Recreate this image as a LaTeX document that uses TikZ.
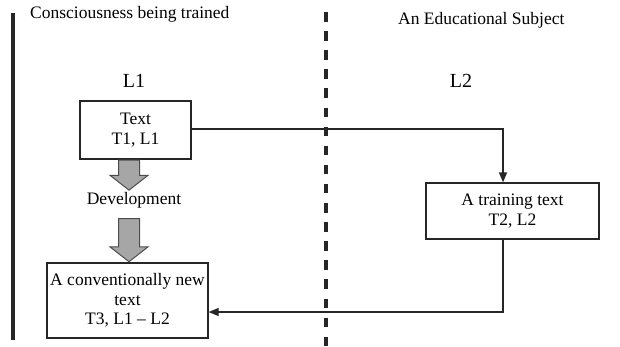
\documentclass[tikz,border=0pt]{standalone}
\usepackage{fontspec}
\setmainfont{Liberation Serif}
\usepackage{tikz}
\usetikzlibrary{arrows.meta,calc,shapes.arrows}

\begin{document}
\begin{tikzpicture}[x=1pt,y=-1pt,
  box/.style={draw=black!85,line width=1.3pt,align=center,inner sep=1pt,font=\fontsize{17.5}{19.5}\selectfont},
  txt/.style={font=\fontsize{17.5}{19.5}\selectfont,inner sep=0pt},
  lang/.style={font=\fontsize{20}{24}\selectfont,inner sep=0pt},
  link/.style={draw=black!85,line width=1.3pt,-{Triangle[length=10pt,width=8pt]}},
  blockarrow/.style={single arrow,shape border rotate=270,draw=black!70,fill=black!35,line width=1pt,
    inner sep=10pt,single arrow head extend=8.5pt,single arrow tip angle=104}]
\useasboundingbox (0,0) rectangle (620,346);

\draw[line width=3.2pt,black!85] (13,13) -- (13,340);
\draw[line width=3.2pt,black!85,dash pattern=on 9.5pt off 9.6pt] (326,12) -- (326,346);

\node[txt,anchor=base west] (head1) at (30,18) {Consciousness being trained};
\node[txt,anchor=base west] (head2) at (398,24) {An Educational Subject};
\node[lang,anchor=base] (l1) at (134,87) {L1};
\node[lang,anchor=base] (l2) at (461,87) {L2};

\node[box,minimum width=111pt,minimum height=58pt] (t1) at (135.5,130) {Text\\T1, L1};
\node[box,minimum width=173pt,minimum height=56pt] (t2) at (512.5,211) {A training text\\T2, L2};
\node[box,minimum width=161pt,minimum height=75pt] (t3) at (127.5,300.5) {A conventionally new\\text\\T3, L1 -- L2};
\node[txt,anchor=base] (dev) at (134,204) {Development};

\node[blockarrow,minimum height=30pt,anchor=tail] (a1) at ($(t1.south)+(-6.5,0)$) {};
\node[blockarrow,minimum height=43pt,anchor=tip] (a2) at ($(t3.north)+(1.5,0)$) {};

\coordinate (c1) at (503,129);
\coordinate (c2) at (503,312);
\draw[link] (t1.east |- c1) -- (c1) -- (t2.north -| c1);
\draw[link] (t2.south -| c2) -- (c2) -- (t3.east |- c2);
\end{tikzpicture}
\end{document}
